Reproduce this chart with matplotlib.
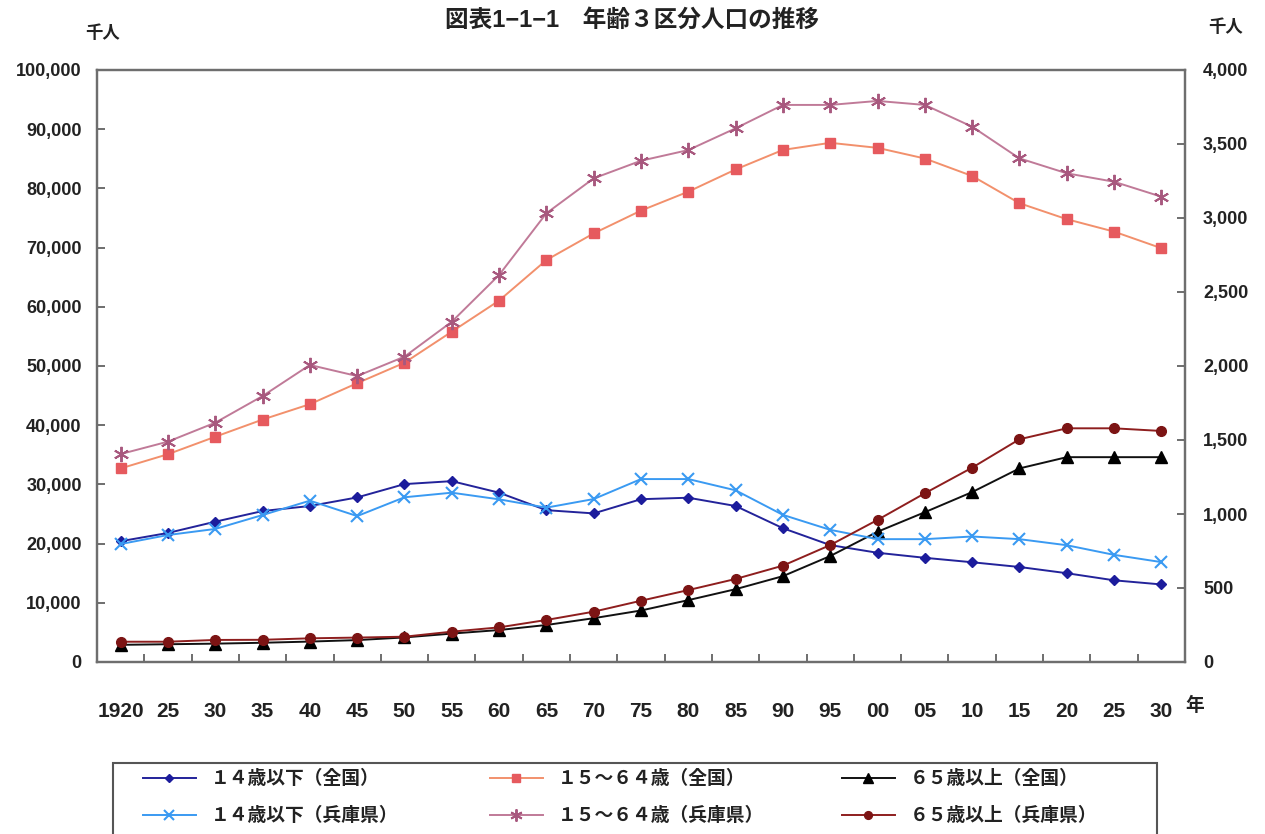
import matplotlib
matplotlib.use("Agg")
import matplotlib.pyplot as plt
from matplotlib.ticker import FuncFormatter, FixedLocator
from matplotlib.patches import Rectangle

plt.rcParams['font.family'] = ['Liberation Sans', 'Noto Sans CJK JP', 'DejaVu Sans']

years = ["1920", "25", "30", "35", "40", "45", "50", "55", "60", "65", "70", "75",
         "80", "85", "90", "95", "00", "05", "10", "15", "20", "25", "30"]

# National (left axis, thousand persons)
nat_0_14 = [20400, 21800, 23700, 25500, 26350, 27800, 30050, 30550, 28600, 25650, 25100, 27500,
            27750, 26350, 22600, 19750, 18450, 17600, 16850, 16050, 15000, 13800, 13100]
nat_15_64 = [32700, 35100, 38050, 40950, 43550, 47100, 50550, 55800, 61050, 67900, 72400, 76250,
             79450, 83200, 86500, 87700, 86850, 85050, 82100, 77500, 74800, 72700, 69900]
nat_65 = [2900, 3000, 3100, 3250, 3450, 3700, 4150, 4800, 5400, 6250, 7400, 8700,
          10450, 12300, 14500, 17900, 22000, 25300, 28700, 32700, 34600, 34600, 34600]

# Hyogo (right axis, thousand persons)
hyo_0_14 = [797, 858, 899, 993, 1090, 986, 1113, 1144, 1099, 1043, 1101, 1236,
            1236, 1160, 994, 893, 830, 830, 848, 830, 789, 724, 675]
hyo_15_64 = [1405, 1489, 1617, 1797, 2007, 1932, 2063, 2299, 2615, 3032, 3268, 3387,
             3459, 3606, 3764, 3764, 3791, 3764, 3617, 3403, 3302, 3245, 3144]
hyo_65 = [137, 137, 149, 150, 160, 165, 171, 205, 234, 284, 340, 414,
          486, 561, 651, 790, 960, 1140, 1313, 1505, 1579, 1579, 1561]

labels = ["１４歳以下（全国）", "１４歳以下（兵庫県）",
          "１５～６４歳（全国）", "１５～６４歳（兵庫県）",
          "６５歳以上（全国）", "６５歳以上（兵庫県）"]

W, H = 1265, 834
fig = plt.figure(figsize=(W / 100, H / 100), dpi=100)
x0, x1, yb, yt = 97, 1185, 662, 70
ax = fig.add_axes([x0 / W, 1 - yb / H, (x1 - x0) / W, (yb - yt) / H])
ax2 = ax.twinx()

x = list(range(len(years)))
lw = 1.4
h1, = ax.plot(x, nat_0_14, color='#23239a', lw=lw, marker='D', ms=5.5, mfc='#1c1c9c', mec='#1c1c9c')
h3, = ax.plot(x, nat_15_64, color='#f2906c', lw=lw, marker='s', ms=7, mfc='#e65a5e', mec='#e65a5e')
h5, = ax.plot(x, nat_65, color='#111111', lw=lw, marker='^', ms=9, mfc='black', mec='black')
h2, = ax2.plot(x, hyo_0_14, color='#3a9af2', lw=lw, marker='x', ms=9, mew=1.5, mec='#3a9af2')
h4, = ax2.plot(x, hyo_15_64, color='#c07a98', lw=lw, marker=(6, 2, 0), ms=11, mew=1.4, mec='#a8587e')
h6, = ax2.plot(x, hyo_65, color='#8e1e1e', lw=lw, marker='o', ms=7, mfc='#7c1414', mec='#7c1414')

ax.set_xlim(-0.5, len(years) - 0.5)
ax.set_ylim(0, 100000)
ax2.set_ylim(0, 4000)

ax.set_xticks(x)
ax.set_xticklabels(years)
ax.xaxis.set_minor_locator(FixedLocator([i + 0.5 for i in range(len(years) - 1)]))
ax.tick_params(axis='x', which='major', length=0, pad=29, labelsize=15)
ax.tick_params(axis='x', which='minor', length=6, direction='in', color='#555555', width=1.2)
for t in ax.get_xticklabels():
    t.set_fontweight('bold')
    t.set_color('#222222')

ax.set_yticks(range(0, 100001, 10000))
ax.yaxis.set_major_formatter(FuncFormatter(lambda v, p: f"{int(v):,}"))
ax.tick_params(axis='y', length=6, direction='in', pad=11, labelsize=13, color='#555555', width=1.2)
ax2.set_yticks(range(0, 4001, 500))
ax2.yaxis.set_major_formatter(FuncFormatter(lambda v, p: f"{int(v):,}"))
ax2.tick_params(axis='y', length=6, direction='in', pad=13, labelsize=13, color='#555555', width=1.2)
for t in ax.get_yticklabels() + ax2.get_yticklabels():
    t.set_fontweight('bold')
    t.set_color('#222222')

for a in (ax, ax2):
    for s in a.spines.values():
        s.set_color('#6e6e6e')
        s.set_linewidth(1.6)

fig.text(632 / W, 1 - 20 / H, "図表1−1−1　年齢３区分人口の推移", ha='center', va='center',
         fontsize=17, fontweight='bold', color='#222222')
fig.text(103 / W, 1 - 33 / H, "千人", ha='center', va='center', fontsize=12.5, fontweight='bold', color='#222222')
fig.text(1226 / W, 1 - 27 / H, "千人", ha='center', va='center', fontsize=12.5, fontweight='bold', color='#222222')
fig.text(1195 / W, 1 - 706 / H, "年", ha='center', va='center', fontsize=13.5, fontweight='bold', color='#222222')

# legend frame (bottom is cut off by the figure edge, as in the reference)
fig.add_artist(Rectangle((113 / W, 1 - 860 / H), (1157 - 113) / W, (860 - 763) / H,
                         transform=fig.transFigure, fill=False, ec='#555555', lw=1.5, clip_on=False))

handles = [h1, h2, h3, h4, h5, h6]
col_x = [143, 490, 842]
for c in range(3):
    leg = fig.legend(handles[2 * c:2 * c + 2], labels[2 * c:2 * c + 2], loc='upper left',
                     bbox_to_anchor=(col_x[c] / W, 1 - 770 / H), borderaxespad=0, borderpad=0,
                     frameon=False, prop={'size': 13.5, 'weight': 'bold'},
                     handlelength=2.8, handletextpad=0.8, labelspacing=1.02)
    for t in leg.get_texts():
        t.set_color('#222222')
    for lh in leg.legend_handles:
        lh.set_markersize(lh.get_markersize() * 0.8)

fig.savefig("out.png", dpi=100)
